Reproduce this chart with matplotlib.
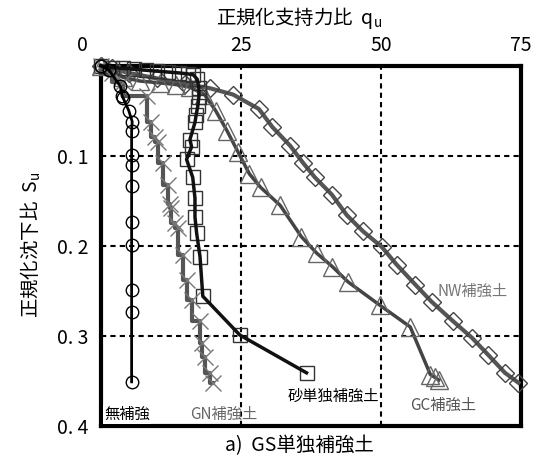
import matplotlib
matplotlib.use("Agg")
import matplotlib.pyplot as plt
import matplotlib.transforms as mtransforms

plt.rcParams['font.family'] = ['Noto Sans CJK JP', 'DejaVu Sans']
plt.rcParams['mathtext.fontset'] = 'dejavusans'

# normalized bearing ratio q_u / normalized settlement ratio S_u
mu_q = [0, 1.5, 3.5, 3.8, 4.0, 5.0, 5.6, 5.5, 5.5, 5.5, 5.5, 5.5, 5.5, 5.5, 5.5, 5.5]
mu_s = [0, 0.005, 0.023, 0.034, 0.036, 0.05, 0.062, 0.073, 0.099, 0.11, 0.134, 0.174, 0.199, 0.249, 0.274, 0.351]

gn_q = [0, 2, 4, 8.2, 9.0, 9.6, 10.2, 11.1, 12.0, 12.3, 12.6, 13.2, 13.8, 14.6, 15.3, 16.2, 17.7, 18.0, 18.6, 19.5, 20.0]
gn_s = [0, 0.008, 0.018, 0.034, 0.062, 0.079, 0.085, 0.108, 0.132, 0.154, 0.158, 0.175, 0.18, 0.21, 0.238, 0.26, 0.284, 0.308, 0.323, 0.341, 0.352]

sand_q = [0, 2, 4, 6, 8, 10, 12, 14, 15.5, 16.5, 17.2, 17.5, 17.5, 17.3, 17.0, 16.8, 15.9, 16.2, 15.3, 16.4, 16.8, 16.8, 17.1, 17.7, 18.2, 24.8, 36.7]
sand_s = [0, 0.002, 0.003, 0.004, 0.005, 0.006, 0.007, 0.008, 0.009, 0.01, 0.015, 0.025, 0.035, 0.045, 0.055, 0.063, 0.082, 0.09, 0.104, 0.124, 0.147, 0.168, 0.186, 0.212, 0.256, 0.299, 0.341]

gc_q = [0, 4, 7, 10.5, 13.5, 16, 18.5, 20.5, 22.5, 24.5, 26.5, 28.5, 32, 35.8, 38.5, 41.3, 44.1, 49.8, 55.2, 58.8, 59.6, 60.3]
gc_s = [0, 0.013, 0.017, 0.019, 0.021, 0.024, 0.032, 0.05, 0.072, 0.096, 0.12, 0.135, 0.155, 0.19, 0.208, 0.223, 0.24, 0.266, 0.29, 0.343, 0.346, 0.349]

nw_q = [0, 2, 5, 10, 15, 19.5, 23.6, 28.2, 30.6, 33.8, 36.1, 38.2, 41.2, 43.9, 46.8, 50.1, 52.8, 56.1, 59.0, 62.9, 66.2, 69.1, 72.1, 74.5]
nw_s = [0, 0.003, 0.008, 0.014, 0.02, 0.025, 0.032, 0.048, 0.068, 0.089, 0.108, 0.124, 0.143, 0.166, 0.184, 0.201, 0.221, 0.243, 0.262, 0.284, 0.302, 0.321, 0.341, 0.352]

x_ticks = [0, 25, 50, 75]
y_ticks = [0.1, 0.2, 0.3, 0.4]
y_ticklabels = ['0. 1', '0. 2', '0. 3', '0. 4']

fig = plt.figure(figsize=(5.39, 4.63), dpi=100)
ax = fig.add_axes([0.187, 0.080, 0.780, 0.778])

# NW
ax.plot(nw_q, nw_s, color='#555555', lw=3, zorder=3, clip_on=False)
ax.plot(nw_q, nw_s, ls='none', marker='D', ms=9, mfc='none', mec='#444444', mew=1, zorder=4, clip_on=False)
# GC
ax.plot(gc_q, gc_s, color='#444444', lw=2.5, zorder=3, clip_on=False)
ax.plot(gc_q, gc_s, ls='none', marker='^', ms=13, mfc='none', mec='#666666', mew=1, zorder=4, clip_on=False)
# sand only
ax.plot(sand_q, sand_s, color='#111111', lw=2.5, zorder=5, clip_on=False)
ax.plot(sand_q, sand_s, ls='none', marker='s', ms=10, mfc='none', mec='#333333', mew=1, zorder=4, clip_on=False)
# GN
ax.plot(gn_q, gn_s, color='#555555', lw=3, drawstyle='steps-pre', zorder=3, clip_on=False)
ax.plot(gn_q, gn_s, ls='none', marker='x', ms=11, mec='#777777', mew=1, zorder=4, clip_on=False)
# unreinforced
ax.plot(mu_q, mu_s, color='#000000', lw=2, zorder=5, clip_on=False)
ax.plot(mu_q, mu_s, ls='none', marker='o', ms=9, mfc='none', mec='#000000', mew=1, zorder=5, clip_on=False)

ax.set_xlim(0, 75)
ax.set_ylim(0.4, 0)
ax.xaxis.tick_top()
ax.set_xticks(x_ticks)
ax.set_xticklabels([str(v) for v in x_ticks], fontsize=14)
ax.set_yticks(y_ticks)
ax.set_yticklabels(y_ticklabels, fontsize=14)
ax.tick_params(length=0, pad=7)
ax.tick_params(axis='y', pad=9)
# the "0" label sits left of the corner
first = ax.get_xticklabels()[0]
first.set_transform(first.get_transform() + mtransforms.ScaledTranslation(-0.18, 0, fig.dpi_scale_trans))
ax.grid(True, color='black', ls=(0, (2.5, 2)), lw=1.5)
for sp in ax.spines.values():
    sp.set_linewidth(3)

fig.text(0.555, 0.962, '正規化支持力比  q$_\\mathregular{u}$', ha='center', va='center', fontsize=14)
fig.text(0.058, 0.47, '正規化沈下比  S$_\\mathregular{u}$', ha='center', va='center', fontsize=14, rotation=90)
fig.text(0.555, 0.038, 'a)  GS単独補強土', ha='center', va='center', fontsize=14)

ax.text(0.6, 0.387, '無補強', fontsize=11, ha='left', va='center', color='black',
        bbox=dict(facecolor='white', edgecolor='none', pad=0.5), zorder=6)
ax.text(15.9, 0.387, 'GN補強土', fontsize=11, ha='left', va='center', color='#666666', zorder=6)
ax.text(41.4, 0.367, '砂単独補強土', fontsize=11, ha='center', va='center', color='black', zorder=6)
ax.text(61, 0.377, 'GC補強土', fontsize=11, ha='center', va='center', color='#555555', zorder=6)
ax.text(66.3, 0.251, 'NW補強土', fontsize=11, ha='center', va='center', color='#777777', zorder=6)

fig.savefig('out.png', dpi=100)
